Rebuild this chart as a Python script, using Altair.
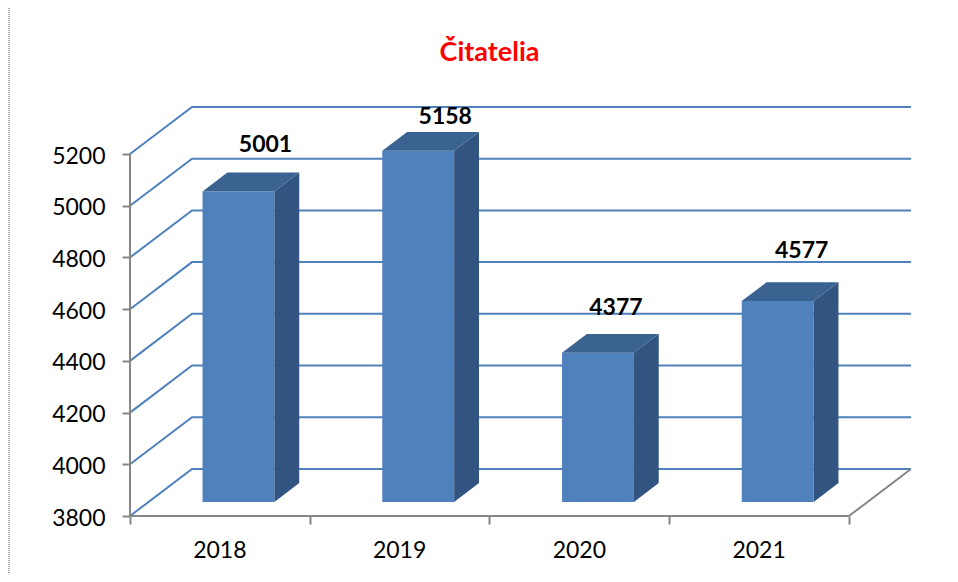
import altair as alt
import pandas as pd

years = ["2018", "2019", "2020", "2021"]
values = [5001, 5158, 4377, 4577]
y_ticks = [3800, 4000, 4200, 4400, 4600, 4800, 5000, 5200]
title_text = "Čitatelia"

BLUE, SIDE, TOP, GRAY = "#4F81BD", "#325480", "#3B6392", "#868686"
FONT = "Lato"
DEPTH_X, DEPTH_Y = 0.345, 182.0  # floor depth in x-category and value units
Y0, Y1 = y_ticks[0], y_ticks[-1]
xs = alt.Scale(domain=[0, len(years) + DEPTH_X], nice=False, zero=False)
ys = alt.Scale(domain=[Y0, Y1 + DEPTH_Y], nice=False, zero=False)

x_axis = alt.Axis(values=list(range(len(years) + 1)), labels=False, title=None, domain=False, grid=False,
                  ticks=True, tickColor=GRAY, tickWidth=2, tickSize=8)
y_axis = alt.Axis(values=y_ticks, title=None, domain=False, grid=False, tickColor=GRAY, tickWidth=2, tickSize=8,
                  labelFont=FONT, labelFontSize=23, labelColor="#000000", labelPadding=17, labelOffset=2,
                  format="d")


def X(field):
    return alt.X(field, type="quantitative", scale=xs, axis=x_axis, stack=None)


def Y(field):
    return alt.Y(field, type="quantitative", scale=ys, axis=y_axis, stack=None)


# walls: each gridline runs front-left -> back-left -> back-right
grid_rows = []
for t in y_ticks:
    grid_rows += [
        {"t": t, "o": 0, "x": 0, "y": t},
        {"t": t, "o": 1, "x": DEPTH_X, "y": t + DEPTH_Y},
        {"t": t, "o": 2, "x": len(years) + DEPTH_X, "y": t + DEPTH_Y},
    ]
grid = alt.Chart(pd.DataFrame(grid_rows)).mark_line(color=BLUE, strokeWidth=2).encode(
    x=X("x"), y=Y("y"), detail="t:N", order="o:Q"
)

# floor edge, axis lines
floor = alt.Chart(pd.DataFrame({"x": [len(years), len(years) + DEPTH_X], "y": [Y0, Y0 + DEPTH_Y]})).mark_line(
    color=GRAY, strokeWidth=2
).encode(x=X("x"), y=Y("y"))
y_line = alt.Chart(pd.DataFrame({"x": [0], "y": [Y0], "y2": [Y1]})).mark_rule(color=GRAY, strokeWidth=2).encode(
    x=X("x"), y=Y("y"), y2="y2:Q"
)
x_line = alt.Chart(pd.DataFrame({"x": [0], "x2": [len(years)], "y": [Y0]})).mark_rule(color=GRAY, strokeWidth=2).encode(
    x=X("x"), x2="x2:Q", y=Y("y")
)

# bars
front_d, back_d = 0.3, 0.7
gap, bar_w = 0.3, 0.4
front_rows, side_rows, top_rows = [], [], []
base = Y0
for i, (yr, v) in enumerate(zip(years, values)):
    a = i + gap + front_d * DEPTH_X
    b = a + bar_w
    bd = (back_d - front_d) * DEPTH_X
    f_low = base + front_d * DEPTH_Y
    f_high = v + front_d * DEPTH_Y
    dv = (back_d - front_d) * DEPTH_Y
    front_rows.append({"x": a, "x2": b, "y": f_low, "y2": f_high})
    side_rows += [
        {"yr": yr, "x": b, "y": f_low, "y2": f_high},
        {"yr": yr, "x": b + bd, "y": f_low + dv, "y2": f_high + dv},
    ]
    top_rows += [
        {"yr": yr, "x": a, "x2": b, "y": f_high},
        {"yr": yr, "x": a + bd, "x2": b + bd, "y": f_high + dv},
    ]

front = alt.Chart(pd.DataFrame(front_rows)).mark_rect(color=BLUE).encode(
    x=X("x"), x2="x2:Q", y=Y("y"), y2="y2:Q"
)
side = alt.Chart(pd.DataFrame(side_rows)).mark_area(color=SIDE, orient="vertical").encode(
    x=X("x"), y=Y("y"), y2="y2:Q", detail="yr:N"
)
top = alt.Chart(pd.DataFrame(top_rows)).mark_area(color=TOP, orient="horizontal").encode(
    y=Y("y"), x=X("x"), x2="x2:Q", detail="yr:N"
)

# data labels, nudged one by one like the hand-placed originals
nudges = [(27, -46), (27, -34), (18, -45), (24, -50)]
labels = []
for i, (yr, v) in enumerate(zip(years, values)):
    row = pd.DataFrame({"x": [i + gap + front_d * DEPTH_X + bar_w / 2], "y": [v + front_d * DEPTH_Y], "t": [str(v)]})
    labels.append(
        alt.Chart(row).mark_text(font=FONT, fontWeight="bold", fontSize=23, color="#000000",
                                 dx=nudges[i][0], dy=nudges[i][1]).encode(x=X("x"), y=Y("y"), text="t:N")
    )

cat_labels = alt.Chart(pd.DataFrame({"x": [i + 0.5 for i in range(len(years))], "y": [Y0] * len(years), "t": years})).mark_text(
    font=FONT, fontSize=23, color="#000000", dy=35
).encode(x=X("x"), y=Y("y"), text="t:N")

title_mark = alt.Chart(pd.DataFrame({"x": [(len(years) + DEPTH_X) / 2], "y": [Y1 + DEPTH_Y], "t": [title_text]})).mark_text(
    font=FONT, fontWeight="bold", fontSize=27, color="#FF0000", dx=-31, dy=-54
).encode(x=X("x"), y=Y("y"), text="t:N")

edge = alt.Chart(pd.DataFrame({"k": [0]})).mark_rule(color="#555555", strokeWidth=1, strokeDash=[1, 1]).encode(
    x=alt.value(-121), y=alt.value(-99), y2=alt.value(467)
)

chart = alt.layer(grid, floor, y_line, x_line, front, side, top, *labels, cat_labels, title_mark, edge).properties(
    width=781,
    height=409,
    padding={"left": 122, "top": 99, "right": 31, "bottom": 58},
    autosize=alt.AutoSizeParams(type="none"),
    background="white",
).configure_view(stroke=None)

chart.save("out.html", embed_options={"renderer": "svg", "actions": False})
